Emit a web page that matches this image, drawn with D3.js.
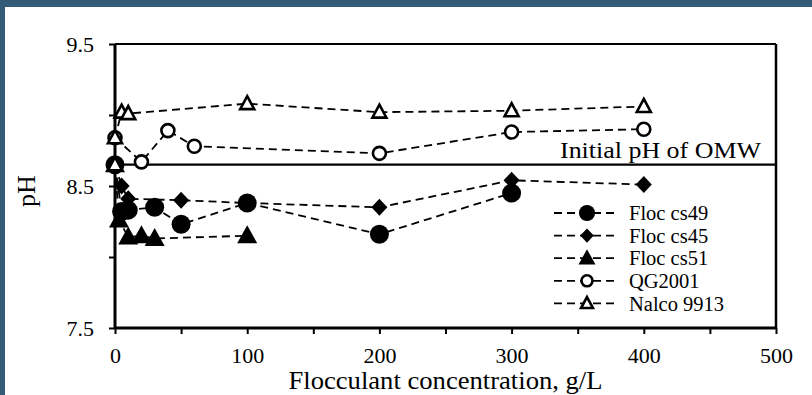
<!DOCTYPE html>
<html><head><meta charset="utf-8">
<script src="https://cdn.jsdelivr.net/npm/d3@7/dist/d3.min.js"></script>
<style>
html,body{margin:0;padding:0;background:#fff;}
svg{display:block;}
text{font-family:"Liberation Serif","Times New Roman",Times,serif;fill:#000;}
</style></head>
<body>
<svg id="chart" width="812" height="395"></svg>
<script>
// ---- data ----
const initialPH = 8.65;
const seriesNames = ["Floc cs49","Floc cs45","Floc cs51","QG2001","Nalco 9913"];
const cs49 = [[0,8.65],[5,8.32],[10,8.33],[30,8.35],[50,8.23],[100,8.38],[200,8.16],[300,8.45]];
const cs45 = [[0,8.65],[5,8.50],[10,8.41],[50,8.40],[100,8.38],[200,8.35],[300,8.54],[400,8.51]];
const cs51 = [[0,8.65],[3,8.26],[10,8.14],[20,8.15],[30,8.13],[100,8.15]];
const qg2001 = [[0,8.84],[20,8.67],[40,8.89],[60,8.78],[200,8.73],[300,8.88],[400,8.90]];
const nalco = [[0,8.65],[0,8.84],[5,9.02],[10,9.01],[100,9.08],[200,9.02],[300,9.03],[400,9.06]];
const xTicks = [0,50,100,150,200,250,300,350,400,450,500];
const xTickLabels = [0,100,200,300,400,500];
const yTicks = [7.5,8.0,8.5,9.0,9.5];
const yTickLabels = [7.5,8.5,9.5];

const svg = d3.select("#chart");
svg.append("rect").attr("x",0).attr("y",0).attr("width",812).attr("height",395).attr("fill","#fff");
svg.append("rect").attr("x",0).attr("y",0).attr("width",812).attr("height",7).attr("fill","#345b77");
svg.append("rect").attr("x",0).attr("y",0).attr("width",5).attr("height",395).attr("fill","#345b77");

const x = d3.scaleLinear().domain([0,500]).range([115,776]);
const y = d3.scaleLinear().domain([7.5,9.5]).range([328,44]);

// plot box top/right
svg.append("line").attr("x1",x(0)).attr("x2",x(500)).attr("y1",y(9.5)).attr("y2",y(9.5)).attr("stroke","#000").attr("stroke-width",2.2);
svg.append("line").attr("x1",x(500)).attr("x2",x(500)).attr("y1",y(9.5)).attr("y2",y(7.5)).attr("stroke","#000").attr("stroke-width",2.5);

// axes
const xAxis = d3.axisBottom(x).tickValues(xTicks).tickSize(6).tickFormat(d=>xTickLabels.includes(d)?d:"");
const gx = svg.append("g").attr("transform",`translate(0,${y(7.5)})`).call(xAxis);
gx.attr("font-family",null);
gx.select(".domain").attr("stroke","#000").attr("stroke-width",3).attr("d",`M${x(0)},0H${x(500)}`);
gx.selectAll(".tick line").attr("stroke","#000").attr("stroke-width",2);
gx.selectAll(".tick text").attr("font-size",22).attr("y",19).attr("dy","0.71em");

const yAxis = d3.axisLeft(y).tickValues(yTicks).tickSize(6).tickFormat(d=>yTickLabels.includes(d)?d3.format(".1f")(d):"");
const gy = svg.append("g").attr("transform",`translate(${x(0)},0)`).call(yAxis);
gy.attr("font-family",null);
gy.select(".domain").attr("stroke","#000").attr("stroke-width",3).attr("d",`M0,${y(7.5)}V${y(9.5)}`);
gy.selectAll(".tick line").attr("stroke","#000").attr("stroke-width",2);
gy.selectAll(".tick text").attr("font-size",22).attr("x",-21);

// axis titles
svg.append("text").attr("x",(x(0)+x(500))/2).attr("y",389).attr("text-anchor","middle").attr("font-size",25)
  .attr("textLength",314).attr("lengthAdjust","spacingAndGlyphs").text("Flocculant concentration, g/L");
svg.append("text").attr("transform","translate(35,191) rotate(-90)").attr("text-anchor","middle").attr("font-size",26).text("pH");

// initial pH line
svg.append("line").attr("x1",x(0)).attr("x2",x(500)).attr("y1",y(initialPH)).attr("y2",y(initialPH)).attr("stroke","#000").attr("stroke-width",2.2);
svg.append("text").attr("x",560).attr("y",y(initialPH)-7).attr("font-size",23.5)
  .attr("textLength",201).attr("lengthAdjust","spacingAndGlyphs").text("Initial pH of OMW");

// markers
function drawMarker(g, type, cx, cy, s){
  if(type==="fcircle") g.append("circle").attr("cx",cx).attr("cy",cy).attr("r",9.5*s).attr("fill","#000");
  else if(type==="diamond") g.append("path").attr("d",`M0,${-8.5*s}L${8*s},0L0,${8.5*s}L${-8*s},0Z`).attr("transform",`translate(${cx},${cy})`).attr("fill","#000");
  else if(type==="ftri") g.append("path").attr("d",`M0,${-10.5*s}L${10*s},${7.5*s}L${-10*s},${7.5*s}Z`).attr("transform",`translate(${cx},${cy})`).attr("fill","#000");
  else if(type==="ocircle") g.append("circle").attr("cx",cx).attr("cy",cy).attr("r",6.5*s).attr("fill","#fff").attr("stroke","#000").attr("stroke-width",2.6);
  else if(type==="otri") g.append("path").attr("d",`M0,${-7.5*s}L${7*s},${5.5*s}L${-7*s},${5.5*s}Z`).attr("transform",`translate(${cx},${cy})`).attr("fill","#fff").attr("stroke","#000").attr("stroke-width",2.6).attr("stroke-linejoin","miter");
}
const allSeries = [cs49, cs45, cs51, qg2001, nalco];
const types = ["fcircle","diamond","ftri","ocircle","otri"];
const line = d3.line().x(d=>x(d[0])).y(d=>y(d[1]));
allSeries.forEach((data,i)=>{
  const g = svg.append("g");
  g.append("path").attr("d",line(data)).attr("fill","none").attr("stroke","#000").attr("stroke-width",1.8).attr("stroke-dasharray","8,5");
  data.forEach(d=>drawMarker(g, types[i], x(d[0]), y(d[1]), 1));
});

// legend
const legY0 = 213, legDy = 22.6;
seriesNames.forEach((n,i)=>{
  const ly = legY0 + i*legDy;
  const g = svg.append("g");
  g.append("line").attr("x1",554).attr("x2",618).attr("y1",ly).attr("y2",ly).attr("stroke","#000").attr("stroke-width",1.8).attr("stroke-dasharray","8,5");
  drawMarker(g, types[i], 587, ly, 0.85);
  g.append("text").attr("x",629).attr("y",ly).attr("dy","0.35em").attr("font-size",20.5).text(n);
});
</script>
</body></html>
